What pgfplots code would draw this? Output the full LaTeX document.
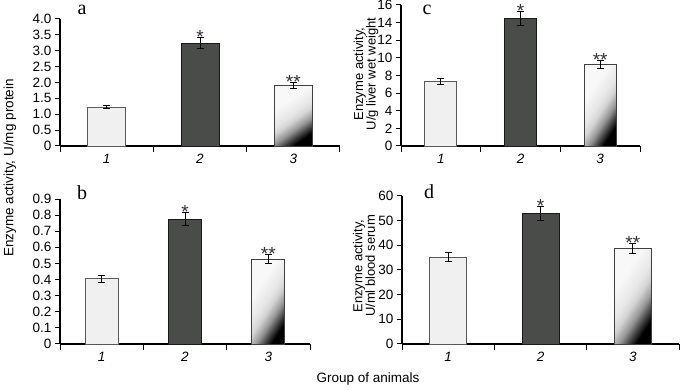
\documentclass[border=0pt]{standalone}
\usepackage{pgfplots}
\pgfplotsset{compat=1.18}
\usepackage{fontspec}
\setmainfont{Liberation Sans}
\newfontfamily\serifletter{Liberation Serif}
\definecolor{barlight}{RGB}{240,240,240}
\definecolor{bardark}{RGB}{74,76,74}
\definecolor{shA}{RGB}{248,248,248}
\definecolor{shB}{RGB}{230,230,230}
\definecolor{shC}{RGB}{212,212,212}
\definecolor{shD}{RGB}{150,150,150}
\definecolor{shE}{RGB}{60,60,60}
\pgfdeclarehorizontalshading{barshade}{100bp}{color(0bp)=(shA); color(35bp)=(shA); color(48bp)=(shB); color(54bp)=(shC); color(62bp)=(shD); color(69bp)=(shE); color(74bp)=(black); color(100bp)=(black)}
\pgfplotsset{
  panel/.style={
    scale only axis, anchor=south west, clip=false,
    axis x line=bottom, axis y line=left,
    axis line style={-, line width=1.1pt},
    xmin=-0.5, xmax=2.5, ymin=0,
    xtick={0,1,2}, xticklabels={\textit{1},\textit{2},\textit{3}},
    major x tick style={draw=none},
    minor xtick={-0.5,0.5,1.5,2.5},
    tick align=outside, major tick length=5pt, minor tick length=6pt,
    tick style={black, line width=1pt},
    tick label style={font=\fontsize{13.5}{13.5}\selectfont},
  },
  b1/.style={ybar, bar shift=0pt, fill=barlight, draw=black!65, line width=0.8pt},
  b2/.style={ybar, bar shift=0pt, fill=bardark, draw=black!90, line width=0.8pt},
  b3/.style={ybar, bar shift=0pt, shade, shading=barshade, shading angle=#1, draw=black!75, line width=0.8pt},
  eb/.style={draw=none, mark=none, forget plot,
    error bars/.cd, y dir=both, y explicit,
    error bar style={draw=black, line width=0.9pt},
    error mark options={rotate=90, draw=black, mark size=3.5pt, line width=0.9pt}},
}
\newcommand{\onestar}[1]{\node[inner sep=0pt, anchor=base, text=black!80, font=\fontsize{19}{19}\selectfont] at #1 {*};}
\newcommand{\twostar}[1]{\node[inner sep=0pt, anchor=base, text=black!80, font=\fontsize{19}{19}\selectfont] at #1 {**};}
\begin{document}
\begin{tikzpicture}[x=1pt,y=1pt]
\useasboundingbox (0,0) rectangle (685,390);
% panel a
\begin{axis}[panel, at={(60pt,244pt)}, width=280pt, height=127pt, ymax=4,
  ytick={0,0.5,1,1.5,2,2.5,3,3.5,4}, yticklabels={0,0.5,1.0,1.5,2.0,2.5,3.0,3.5,4.0}]
\addplot[b1, bar width=38pt] coordinates {(0,1.23)};
\addplot[b2, bar width=38pt] coordinates {(1,3.24)};
\addplot[b3=-55, bar width=38pt] coordinates {(2,1.91)};
\addplot[eb] coordinates {(0,1.23) +- (0,0.06) (1,3.24) +- (0,0.17) (2,1.91) +- (0,0.10)};
\onestar{([yshift=-6pt]axis cs:1,3.41)}
\twostar{([yshift=-6pt]axis cs:2,2.01)}
\end{axis}
% panel b
\begin{axis}[panel, at={(60pt,46pt)}, width=250pt, height=145pt, ymax=0.9,
  ytick={0,0.1,0.2,0.3,0.4,0.5,0.6,0.7,0.8,0.9}, yticklabels={0,0.1,0.2,0.3,0.4,0.5,0.6,0.7,0.8,0.9}]
\addplot[b1, bar width=33pt] coordinates {(0,0.405)};
\addplot[b2, bar width=33pt] coordinates {(1,0.774)};
\addplot[b3=-33, bar width=33pt] coordinates {(2,0.527)};
\addplot[eb] coordinates {(0,0.405) +- (0,0.02) (1,0.774) +- (0,0.04) (2,0.527) +- (0,0.03)};
\onestar{([yshift=-6pt]axis cs:1,0.814)}
\twostar{([yshift=-6pt]axis cs:2,0.557)}
\end{axis}
% panel c
\begin{axis}[panel, at={(401pt,244pt)}, width=239pt, height=141pt, ymax=16,
  ytick={0,2,4,6,8,10,12,14,16}, yticklabels={0,2,4,6,8,10,12,14,16}]
\addplot[b1, bar width=32pt] coordinates {(0,7.3)};
\addplot[b2, bar width=32pt] coordinates {(1,14.5)};
\addplot[b3=-33, bar width=32pt] coordinates {(2,9.25)};
\addplot[eb] coordinates {(0,7.3) +- (0,0.37) (1,14.5) +- (0,0.8) (2,9.25) +- (0,0.5)};
\onestar{([yshift=-6pt]axis cs:1,15.3)}
\twostar{([yshift=-6pt]axis cs:2,9.75)}
\end{axis}
% panel d
\begin{axis}[panel, at={(402pt,46pt)}, width=277pt, height=148pt, ymax=60,
  ytick={0,10,20,30,40,50,60}, yticklabels={0,10,20,30,40,50,60}]
\addplot[b1, bar width=37pt] coordinates {(0,35.2)};
\addplot[b2, bar width=37pt] coordinates {(1,53)};
\addplot[b3=-33, bar width=37pt] coordinates {(2,38.8)};
\addplot[eb] coordinates {(0,35.2) +- (0,1.9) (1,53) +- (0,2.8) (2,38.8) +- (0,2)};
\onestar{([yshift=-6pt]axis cs:1,55.8)}
\twostar{([yshift=-6pt]axis cs:2,40.8)}
\end{axis}
% panel letters
\node[anchor=base, inner sep=0pt, font=\serifletter\fontsize{20}{20}\selectfont] at (82,375) {a};
\node[anchor=base, inner sep=0pt, font=\serifletter\fontsize{20}{20}\selectfont] at (82,190) {b};
\node[anchor=base, inner sep=0pt, font=\serifletter\fontsize{20}{20}\selectfont] at (427,375) {c};
\node[anchor=base, inner sep=0pt, font=\serifletter\fontsize{20}{20}\selectfont] at (429,191) {d};
% axis labels
\node[rotate=90, inner sep=0pt, font=\fontsize{13.5}{14}\selectfont] at (10,222) {Enzyme activity, U/mg protein};
\node[rotate=90, inner sep=0pt, align=center, font=\fontsize{13}{12.5}\selectfont] at (366,316) {Enzyme activity,\\U/g liver wet weight};
\node[rotate=90, inner sep=0pt, align=center, font=\fontsize{13}{12.5}\selectfont] at (364,124) {Enzyme activity,\\U/ml blood serum};
\node[inner sep=0pt, font=\fontsize{13.5}{14}\selectfont] at (368,11) {Group of animals};
\end{tikzpicture}
\end{document}
